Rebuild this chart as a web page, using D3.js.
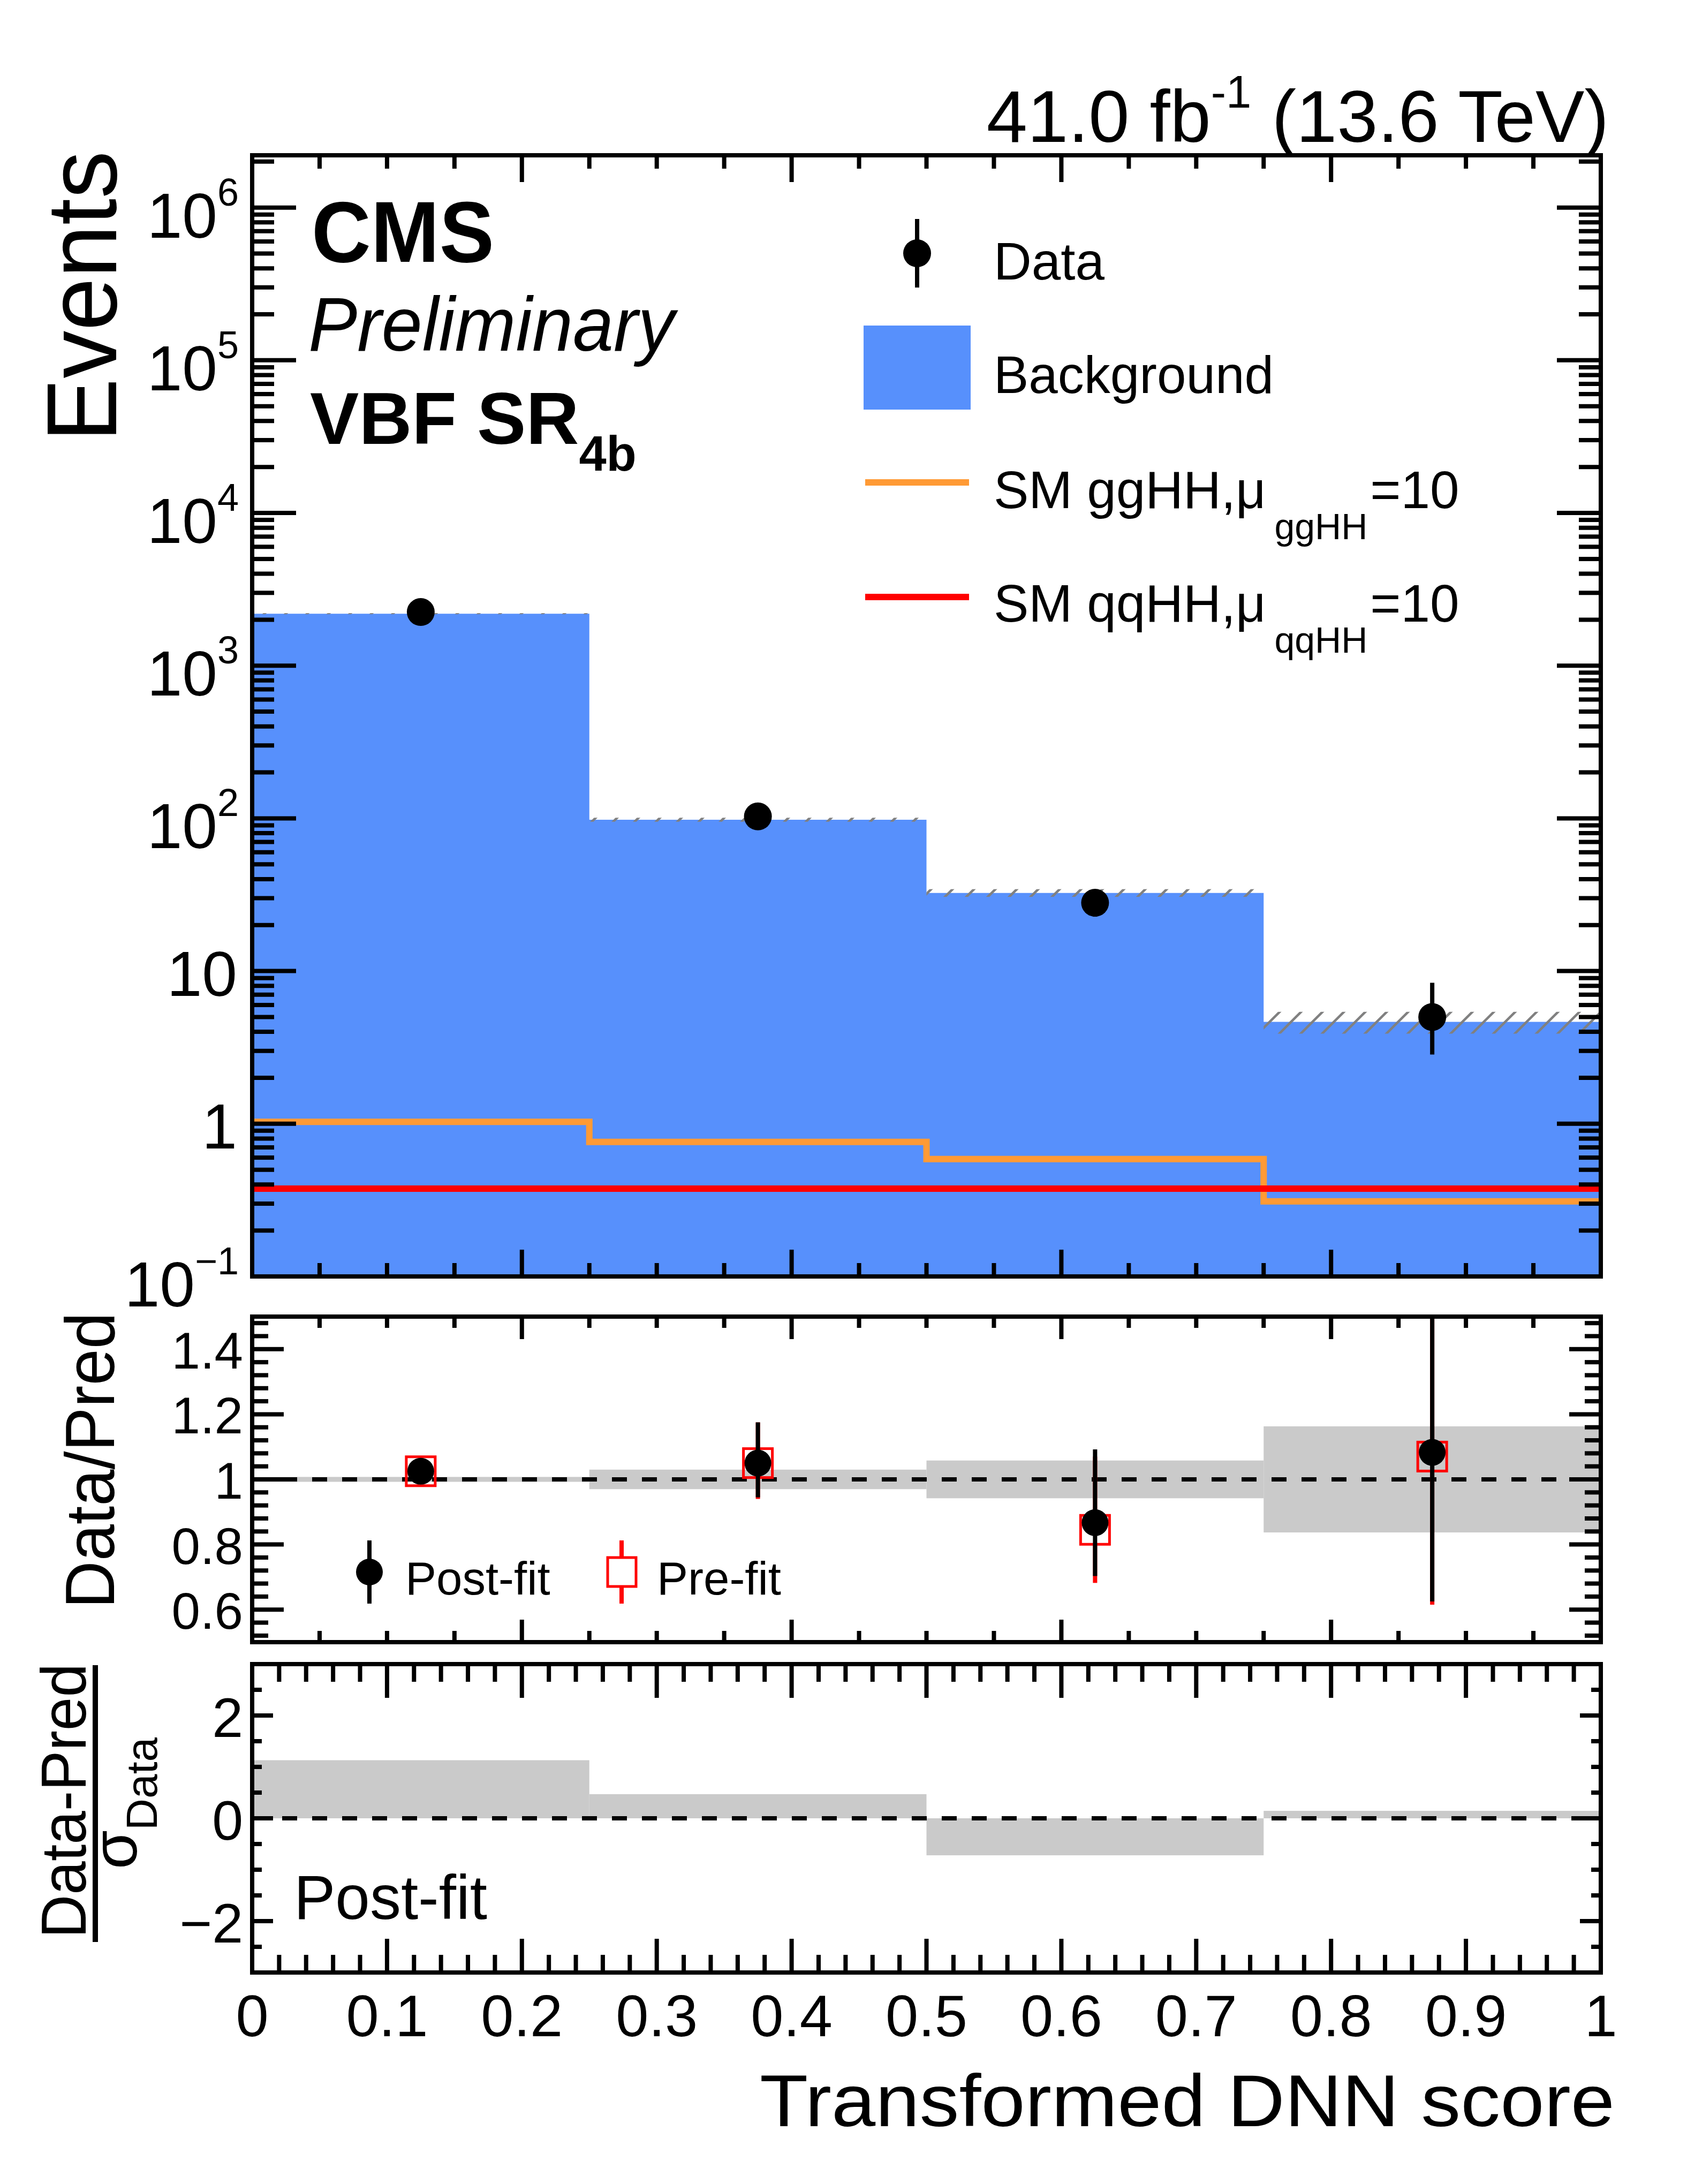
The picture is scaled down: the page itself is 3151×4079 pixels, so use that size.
<!DOCTYPE html>
<html>
<head>
<meta charset="utf-8">
<script src="https://cdn.jsdelivr.net/npm/d3@7"></script>
<style>
  html, body { margin: 0; padding: 0; background: #fff; }
  svg { display: block; }
  text { font-family: "Liberation Sans", Arial, Helvetica, sans-serif; fill: #000; }
</style>
</head>
<body>
<svg id="chart" width="3151" height="4079"></svg>
<script>
// bins of the transformed DNN score
var binEdges = [0, 0.25, 0.5, 0.75, 1];
var binCenters = [0.125, 0.375, 0.625, 0.875];

// top panel (events)
var background = [2190, 98, 32.5, 4.65];
var bkgRelUnc = [0.008, 0.03, 0.058, 0.163];
var dataCounts = [2245, 103, 28, 5];
var dataLo = [2198, 93, 22.7, 2.84];
var dataHi = [2292, 113.5, 33.4, 8.38];
var ggHH = [1.03, 0.76, 0.587, 0.31];
var qqHH = [0.376, 0.376, 0.376, 0.376];

// middle panel (data / prediction)
var ratioPost = [1.025, 1.05, 0.867, 1.083];
var ratioPostLo = [1.003, 0.945, 0.703, 0.625];
var ratioPostHi = [1.047, 1.175, 1.092, 1.9];
var ratioPre = [1.025, 1.05, 0.845, 1.07];
var ratioPreLo = [1.003, 0.94, 0.682, 0.615];
var ratioPreHi = [1.047, 1.175, 1.07, 1.9];
var ratioBand = [0.0075, 0.03, 0.058, 0.163];

// bottom panel (pulls)
var pulls = [1.13, 0.47, -0.72, 0.145];

var xLabels = ['0', '0.1', '0.2', '0.3', '0.4', '0.5', '0.6', '0.7', '0.8', '0.9', '1'];
var ratioLabels = ['0.6', '0.8', '1', '1.2', '1.4'];
var pullLabels = ['\u22122', '0', '2'];

var BLUE = '#5790fc', ORANGE = '#ff9a35', RED = '#ff0000', GREY = '#cacaca';

var L = 471, R = 2990;
var top1 = 290, bot1 = 2384, top2 = 2459, bot2 = 3067, top3 = 3108, bot3 = 3684;

var svg = d3.select('#chart');
svg.append('rect').attr('width', 3151).attr('height', 4079).attr('fill', '#fff');

var x = d3.scaleLinear().domain([0, 1]).range([L, R]);
var y = d3.scaleLog().domain([0.1, 2.2e6]).range([bot1, top1]);
var yr = d3.scaleLinear().domain([0.5, 1.5]).range([bot2, top2]);
var yp = d3.scaleLinear().domain([-3, 3]).range([bot3, top3]);

var defs = svg.append('defs');
var hatch = defs.append('pattern')
    .attr('id', 'hatch')
    .attr('patternUnits', 'userSpaceOnUse')
    .attr('width', 40).attr('height', 40);
[[0, 40, 40, 0], [-10, 10, 10, -10], [30, 50, 50, 30]].forEach(function(s) {
    hatch.append('line')
        .attr('x1', s[0]).attr('y1', s[1]).attr('x2', s[2]).attr('y2', s[3])
        .attr('stroke', '#808080').attr('stroke-width', 4.5);
});

function clipRect(id, y0, y1) {
    defs.append('clipPath').attr('id', id)
        .append('rect').attr('x', L).attr('y', y0).attr('width', R - L).attr('height', y1 - y0);
}
clipRect('clip1', top1, bot1);
clipRect('clip2', top2, bot2);
clipRect('clip3', top3, bot3);

var bins = d3.range(4);

function stepPoints(vals) {
    var pts = vals.map(function(v, i) { return [binEdges[i], v]; });
    pts.push([1, vals[vals.length - 1]]);
    return pts;
}

// ---------- top panel ----------
var p1 = svg.append('g').attr('clip-path', 'url(#clip1)');

var bkgArea = d3.area()
    .x(function(d) { return x(d[0]); })
    .y0(y(0.1))
    .y1(function(d) { return y(d[1]); })
    .curve(d3.curveStepAfter);
p1.append('path').attr('d', bkgArea(stepPoints(background))).attr('fill', BLUE);

p1.selectAll('rect.unc')
    .data(bins)
  .enter().append('rect')
    .attr('class', 'unc')
    .attr('x', function(i) { return x(binEdges[i]); })
    .attr('width', function(i) { return x(binEdges[i + 1]) - x(binEdges[i]); })
    .attr('y', function(i) { return y(background[i] * (1 + bkgRelUnc[i])); })
    .attr('height', function(i) {
        return y(background[i] * (1 - bkgRelUnc[i])) - y(background[i] * (1 + bkgRelUnc[i]));
    })
    .attr('fill', 'url(#hatch)');

var stepLine = d3.line()
    .x(function(d) { return x(d[0]); })
    .y(function(d) { return y(d[1]); })
    .curve(d3.curveStepAfter);

p1.append('path').attr('d', stepLine(stepPoints(ggHH)))
    .attr('fill', 'none').attr('stroke', ORANGE).attr('stroke-width', 12);
p1.append('path').attr('d', stepLine(stepPoints(qqHH)))
    .attr('fill', 'none').attr('stroke', RED).attr('stroke-width', 12);

p1.selectAll('line.derr')
    .data(bins)
  .enter().append('line')
    .attr('x1', function(i) { return x(binCenters[i]); })
    .attr('x2', function(i) { return x(binCenters[i]); })
    .attr('y1', function(i) { return y(dataLo[i]); })
    .attr('y2', function(i) { return y(dataHi[i]); })
    .attr('stroke', '#000').attr('stroke-width', 8);
p1.selectAll('circle.data')
    .data(bins)
  .enter().append('circle')
    .attr('cx', function(i) { return x(binCenters[i]); })
    .attr('cy', function(i) { return y(dataCounts[i]); })
    .attr('r', 26).attr('fill', '#000');

// ---------- ratio panel ----------
var p2 = svg.append('g').attr('clip-path', 'url(#clip2)');

p2.selectAll('rect.band')
    .data(bins)
  .enter().append('rect')
    .attr('x', function(i) { return x(binEdges[i]); })
    .attr('width', function(i) { return x(binEdges[i + 1]) - x(binEdges[i]); })
    .attr('y', function(i) { return yr(1 + ratioBand[i]); })
    .attr('height', function(i) { return yr(1 - ratioBand[i]) - yr(1 + ratioBand[i]); })
    .attr('fill', GREY);

p2.append('line')
    .attr('x1', x(0)).attr('x2', x(1)).attr('y1', yr(1)).attr('y2', yr(1))
    .attr('stroke', '#000').attr('stroke-width', 8).attr('stroke-dasharray', '28,28');

var SQ = 27;
p2.selectAll('line.preHi')
    .data(bins)
  .enter().append('line')
    .attr('x1', function(i) { return x(binCenters[i]); })
    .attr('x2', function(i) { return x(binCenters[i]); })
    .attr('y1', function(i) { return yr(ratioPre[i]) - SQ; })
    .attr('y2', function(i) { return Math.min(yr(ratioPreHi[i]), yr(ratioPre[i]) - SQ); })
    .attr('stroke', RED).attr('stroke-width', 8);
p2.selectAll('line.preLo')
    .data(bins)
  .enter().append('line')
    .attr('x1', function(i) { return x(binCenters[i]); })
    .attr('x2', function(i) { return x(binCenters[i]); })
    .attr('y1', function(i) { return yr(ratioPre[i]) + SQ; })
    .attr('y2', function(i) { return Math.max(yr(ratioPreLo[i]), yr(ratioPre[i]) + SQ); })
    .attr('stroke', RED).attr('stroke-width', 8);
p2.selectAll('rect.pre')
    .data(bins)
  .enter().append('rect')
    .attr('x', function(i) { return x(binCenters[i]) - SQ; })
    .attr('y', function(i) { return yr(ratioPre[i]) - SQ; })
    .attr('width', 2 * SQ).attr('height', 2 * SQ)
    .attr('fill', 'none').attr('stroke', RED).attr('stroke-width', 5);

p2.selectAll('line.post')
    .data(bins)
  .enter().append('line')
    .attr('x1', function(i) { return x(binCenters[i]); })
    .attr('x2', function(i) { return x(binCenters[i]); })
    .attr('y1', function(i) { return yr(ratioPostLo[i]); })
    .attr('y2', function(i) { return yr(ratioPostHi[i]); })
    .attr('stroke', '#000').attr('stroke-width', 8);
p2.selectAll('circle.post')
    .data(bins)
  .enter().append('circle')
    .attr('cx', function(i) { return x(binCenters[i]); })
    .attr('cy', function(i) { return yr(ratioPost[i]); })
    .attr('r', 25).attr('fill', '#000');

// ---------- pull panel ----------
var p3 = svg.append('g').attr('clip-path', 'url(#clip3)');
p3.selectAll('rect.pull')
    .data(bins)
  .enter().append('rect')
    .attr('x', function(i) { return x(binEdges[i]); })
    .attr('width', function(i) { return x(binEdges[i + 1]) - x(binEdges[i]); })
    .attr('y', function(i) { return Math.min(yp(pulls[i]), yp(0)); })
    .attr('height', function(i) { return Math.abs(yp(pulls[i]) - yp(0)); })
    .attr('fill', GREY);
p3.append('line')
    .attr('x1', x(0)).attr('x2', x(1)).attr('y1', yp(0)).attr('y2', yp(0))
    .attr('stroke', '#000').attr('stroke-width', 8).attr('stroke-dasharray', '28,28');

// ---------- frames and ticks ----------
function xTicks(values, len, y0, y1) {
    var g = svg.append('g');
    values.forEach(function(v) {
        g.append('line').attr('x1', x(v)).attr('x2', x(v)).attr('y1', y0).attr('y2', y0 + len);
        g.append('line').attr('x1', x(v)).attr('x2', x(v)).attr('y1', y1).attr('y2', y1 - len);
    });
    g.selectAll('line').attr('stroke', '#000').attr('stroke-width', 8);
}
function yTicks(scale, values, len) {
    var g = svg.append('g');
    values.forEach(function(v) {
        g.append('line').attr('x1', L).attr('x2', L + len).attr('y1', scale(v)).attr('y2', scale(v));
        g.append('line').attr('x1', R).attr('x2', R - len).attr('y1', scale(v)).attr('y2', scale(v));
    });
    g.selectAll('line').attr('stroke', '#000').attr('stroke-width', 8);
}
function inner(vals) {
    return vals.filter(function(v) { return v > 0.001 && v < 0.999; });
}

var x02 = inner(d3.range(0, 1.0001, 0.2));
var x005 = inner(d3.range(0, 1.0001, 0.05)).filter(function(v) { return Math.abs(v * 5 - Math.round(v * 5)) > 0.01; });
var x01 = inner(d3.range(0, 1.0001, 0.1));
var x002 = inner(d3.range(0, 1.0001, 0.02)).filter(function(v) { return Math.abs(v * 10 - Math.round(v * 10)) > 0.01; });

xTicks(x02, 50, top1, bot1);
xTicks(x005, 25, top1, bot1);
xTicks(x02, 42, top2, bot2);
xTicks(x005, 21, top2, bot2);
xTicks(x01, 63, top3, bot3);
xTicks(x002, 33, top3, bot3);

var logTicks = y.ticks().filter(function(v) { return v > 0.1001 && v < 2.2e6; });
var logMajor = logTicks.filter(function(v) { return Math.abs(Math.log10(v) - Math.round(Math.log10(v))) < 1e-6; });
var logMinor = logTicks.filter(function(v) { return logMajor.indexOf(v) < 0; });
yTicks(y, logMajor, 82);
yTicks(y, logMinor, 41);

yTicks(yr, ratioLabels.map(Number), 59);
yTicks(yr, d3.range(0.52, 1.49, 0.04).filter(function(v) {
    return Math.abs(v * 5 - Math.round(v * 5)) > 0.01;
}), 30);
yTicks(yp, [-2, 0, 2], 39);
yTicks(yp, [-2.5, -1.5, -1, -0.5, 0.5, 1, 1.5, 2.5], 18);

[[top1, bot1], [top2, bot2], [top3, bot3]].forEach(function(f) {
    svg.append('rect').attr('x', L).attr('y', f[0]).attr('width', R - L).attr('height', f[1] - f[0])
        .attr('fill', 'none').attr('stroke', '#000').attr('stroke-width', 8);
});

// ---------- axis labels ----------
var yLab = svg.append('g');
[0.1, 1, 10, 100, 1000, 1e4, 1e5, 1e6].forEach(function(v) {
    var p = Math.round(Math.log10(v));
    if (p === 0 || p === 1) {
        yLab.append('text').attr('x', 443).attr('y', y(v) + 46)
            .attr('text-anchor', 'end').attr('font-size', 118).text(p === 0 ? '1' : '10');
    } else {
        var t = yLab.append('text').attr('x', 446).attr('y', y(v) + 56)
            .attr('text-anchor', 'end').attr('font-size', 118);
        t.append('tspan').text('10');
        t.append('tspan').attr('font-size', 72).attr('dy', -60).text(p < 0 ? '\u2212' + (-p) : String(p));
    }
});

svg.append('g').selectAll('text')
    .data(ratioLabels)
  .enter().append('text')
    .attr('x', 454).attr('y', function(d) { return yr(+d) + 36; })
    .attr('text-anchor', 'end').attr('font-size', 96).text(function(d) { return d; });

svg.append('g').selectAll('text')
    .data(pullLabels)
  .enter().append('text')
    .attr('x', 454).attr('y', function(d) { return yp(+d.replace('\u2212', '-')) + 40; })
    .attr('text-anchor', 'end').attr('font-size', 104).text(function(d) { return d; });

svg.append('g').selectAll('text')
    .data(xLabels)
  .enter().append('text')
    .attr('x', function(d) { return x(+d); }).attr('y', 3803)
    .attr('text-anchor', 'middle').attr('font-size', 110).text(function(d) { return d; });

svg.append('text').attr('x', 1419).attr('y', 3971)
    .attr('font-size', 138).attr('textLength', 1597).attr('lengthAdjust', 'spacingAndGlyphs')
    .text('Transformed DNN score');

svg.append('text').attr('transform', 'translate(217,825) rotate(-90)')
    .attr('font-size', 186).attr('textLength', 543).attr('lengthAdjust', 'spacingAndGlyphs')
    .text('Events');

svg.append('text').attr('transform', 'translate(213,3004) rotate(-90)')
    .attr('font-size', 130).attr('textLength', 553).attr('lengthAdjust', 'spacingAndGlyphs')
    .text('Data/Pred');

svg.append('text').attr('transform', 'translate(160,3620) rotate(-90)')
    .attr('font-size', 118).attr('textLength', 513).attr('lengthAdjust', 'spacingAndGlyphs')
    .text('Data-Pred');
svg.append('line').attr('x1', 178).attr('x2', 178).attr('y1', 3110).attr('y2', 3627)
    .attr('stroke', '#000').attr('stroke-width', 10);
var den = svg.append('text').attr('transform', 'translate(255,3368) rotate(-90)')
    .attr('text-anchor', 'middle').attr('font-size', 118);
den.append('tspan').text('\u03c3');
den.append('tspan').attr('font-size', 82).attr('dy', 38).text('Data');

// ---------- CMS labels ----------
svg.append('text').attr('x', 582).attr('y', 489).attr('font-size', 162)
    .attr('font-weight', 'bold').attr('textLength', 341).attr('lengthAdjust', 'spacingAndGlyphs')
    .text('CMS');
svg.append('text').attr('x', 576).attr('y', 655).attr('font-size', 142)
    .attr('font-style', 'italic').attr('textLength', 684).attr('lengthAdjust', 'spacingAndGlyphs')
    .text('Preliminary');
var sr = svg.append('text').attr('x', 579).attr('y', 829).attr('font-size', 137).attr('font-weight', 'bold');
sr.append('tspan').text('VBF SR');
sr.append('tspan').attr('font-size', 92).attr('dy', 50).text('4b');

var lumi = svg.append('text').attr('x', 3005).attr('y', 265).attr('text-anchor', 'end').attr('font-size', 137);
lumi.append('tspan').text('41.0 fb');
lumi.append('tspan').attr('font-size', 85).attr('dy', -64).text('-1');
lumi.append('tspan').attr('dy', 64).text(' (13.6 TeV)');

// ---------- legend (top) ----------
var leg = svg.append('g');
leg.append('line').attr('x1', 1713).attr('x2', 1713).attr('y1', 409).attr('y2', 537)
    .attr('stroke', '#000').attr('stroke-width', 8);
leg.append('circle').attr('cx', 1713).attr('cy', 473).attr('r', 26).attr('fill', '#000');
leg.append('text').attr('x', 1856).attr('y', 522).attr('font-size', 98).text('Data');

leg.append('rect').attr('x', 1613).attr('y', 608).attr('width', 200).attr('height', 157).attr('fill', BLUE);
leg.append('text').attr('x', 1856).attr('y', 734).attr('font-size', 98).text('Background');

leg.append('line').attr('x1', 1616).attr('x2', 1810).attr('y1', 901).attr('y2', 901)
    .attr('stroke', ORANGE).attr('stroke-width', 12);
var lg = leg.append('text').attr('x', 1856).attr('y', 949).attr('font-size', 98);
lg.append('tspan').text('SM ggHH,\u03bc');
lg.append('tspan').attr('font-size', 68).attr('dx', 16).attr('dy', 58).text('ggHH');
lg.append('tspan').attr('dx', 5).attr('dy', -58).text('=10');

leg.append('line').attr('x1', 1616).attr('x2', 1810).attr('y1', 1115).attr('y2', 1115)
    .attr('stroke', RED).attr('stroke-width', 12);
var lq = leg.append('text').attr('x', 1856).attr('y', 1161).attr('font-size', 98);
lq.append('tspan').text('SM qqHH,\u03bc');
lq.append('tspan').attr('font-size', 68).attr('dx', 16).attr('dy', 58).text('qqHH');
lq.append('tspan').attr('dx', 5).attr('dy', -58).text('=10');

// ---------- legend (ratio) ----------
var rl = svg.append('g');
rl.append('line').attr('x1', 690).attr('x2', 690).attr('y1', 2877).attr('y2', 2995)
    .attr('stroke', '#000').attr('stroke-width', 8);
rl.append('circle').attr('cx', 690).attr('cy', 2936).attr('r', 25).attr('fill', '#000');
rl.append('text').attr('x', 757).attr('y', 2978).attr('font-size', 87).text('Post-fit');

rl.append('line').attr('x1', 1161).attr('x2', 1161).attr('y1', 2877).attr('y2', 2909)
    .attr('stroke', RED).attr('stroke-width', 8);
rl.append('line').attr('x1', 1161).attr('x2', 1161).attr('y1', 2963).attr('y2', 2995)
    .attr('stroke', RED).attr('stroke-width', 8);
rl.append('rect').attr('x', 1135).attr('y', 2909).attr('width', 53).attr('height', 54)
    .attr('fill', 'none').attr('stroke', RED).attr('stroke-width', 5);
rl.append('text').attr('x', 1227).attr('y', 2978).attr('font-size', 87).text('Pre-fit');

svg.append('text').attr('x', 549).attr('y', 3584).attr('font-size', 116).text('Post-fit');
</script>
</body>
</html>
